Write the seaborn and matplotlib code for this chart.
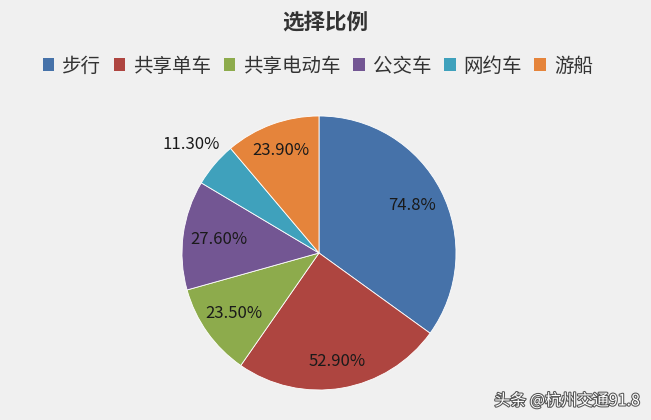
import numpy as np
import matplotlib
matplotlib.use("Agg")
import matplotlib.pyplot as plt
import seaborn as sns
from matplotlib.patches import Patch
import matplotlib.patheffects as pe

# data
modes = ["步行", "共享单车", "共享电动车", "公交车", "网约车", "游船"]
shares = [74.8, 52.9, 23.5, 27.6, 11.3, 23.9]
pct_labels = ["74.8%", "52.90%", "23.50%", "27.60%", "11.30%", "23.90%"]
colors = ["#4672a9", "#ae4540", "#8dab4c", "#735693", "#3fa1bc", "#e5843b"]

sns.set_theme(style="white")
plt.rcParams['font.family'] = ['Noto Sans CJK SC', 'DejaVu Sans']

bg = "#f0f0f0"
fig = plt.figure(figsize=(6.51, 4.2), dpi=100, facecolor=bg)

# pie axes: centre ~ (319, 253) px, radius ~137 px
cx, cy, r = 319, 253, 137
ax = fig.add_axes([(cx - r) / 651, 1 - (cy + r) / 420, 2 * r / 651, 2 * r / 420])
ax.set_facecolor("none")

pal = sns.color_palette(colors)
wedges, _ = ax.pie(shares, colors=pal, startangle=90, counterclock=False,
                   wedgeprops=dict(edgecolor="white", linewidth=0.6))
ax.set_xlim(-1, 1)
ax.set_ylim(-1, 1)
ax.set_aspect("equal")

dists = [0.76, 0.80, 0.76, 0.74, 1.22, 0.80]
for w, lab, d in zip(wedges, pct_labels, dists):
    ang = np.deg2rad((w.theta1 + w.theta2) / 2)
    x, y = d * np.cos(ang), d * np.sin(ang)
    ax.text(x, y, lab, ha="center", va="center", fontsize=12, color="#1a1a1a",
            clip_on=False)

fig.text(0.5, 1 - 22 / 420, "选择比例", ha="center", va="center",
         fontsize=15.5, fontweight="bold", color="#333333")

handles = [Patch(facecolor=c, edgecolor="none") for c in colors]
fig.legend(handles, modes, loc="center", bbox_to_anchor=(0.488, 1 - 66 / 420),
           ncol=6, frameon=False, fontsize=14, handlelength=0.6, handleheight=0.6,
           handletextpad=0.4, columnspacing=0.65, labelcolor="#333333")

fig.text(0.983, 1 - 401 / 420, "头条 @杭州交通91.8", ha="right", va="center",
         fontsize=11.5, color="white",
         path_effects=[pe.withStroke(linewidth=1.5, foreground="#555555")])

fig.savefig("out.png", dpi=100, facecolor=bg)
